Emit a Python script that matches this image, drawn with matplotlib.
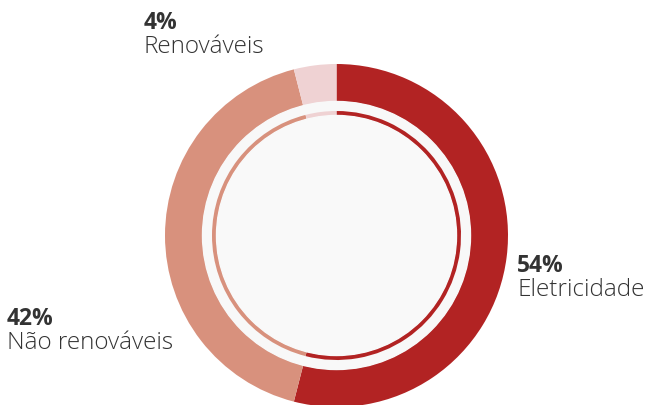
import matplotlib.pyplot as plt
from matplotlib.patches import Circle

labels = ['Eletricidade', 'Não renováveis', 'Renováveis']
values = [54, 42, 4]
colors = ['#b22323', '#d8917d', '#efd2d3']

# label anchor points (pixels from top-left) for each category
label_pos = {
    'Eletricidade': (517, 272),
    'Não renováveis': (7, 325),
    'Renováveis': (144, 29),
}

W, H = 649, 406
fig = plt.figure(figsize=(W / 100, H / 100), dpi=100)
ax = fig.add_axes([0, 0, 1, 1])
ax.axis('off')

cx, cy = 336.5, H - 236.5
r_out = 171.5

ax.pie(values, colors=colors, radius=r_out, center=(cx, cy),
       startangle=90, counterclock=False,
       wedgeprops=dict(width=37.5, edgecolor='none'))
ax.add_patch(Circle((cx, cy), r_out - 37.5, color='#f8f8f8', zorder=2))
ax.pie(values, colors=colors, radius=124.5, center=(cx, cy),
       startangle=90, counterclock=False,
       wedgeprops=dict(width=4.5, edgecolor='none', zorder=3))
ax.add_patch(Circle((cx, cy), 120, color='#f9f9f9', zorder=4))
ax.set_xlim(0, W)
ax.set_ylim(0, H)
ax.set_aspect('auto')

for lab, val in zip(labels, values):
    x, y = label_pos[lab]
    ax.text(x, H - y, f'{val}%', fontsize=16.5, fontweight='bold',
            family='Open Sans', color='#333333', va='baseline', ha='left')
    ax.text(x, H - y - 24, lab, fontsize=17.5, fontweight='light',
            family='Open Sans', color='#333333', va='baseline', ha='left')

fig.savefig('out.png', dpi=100)
